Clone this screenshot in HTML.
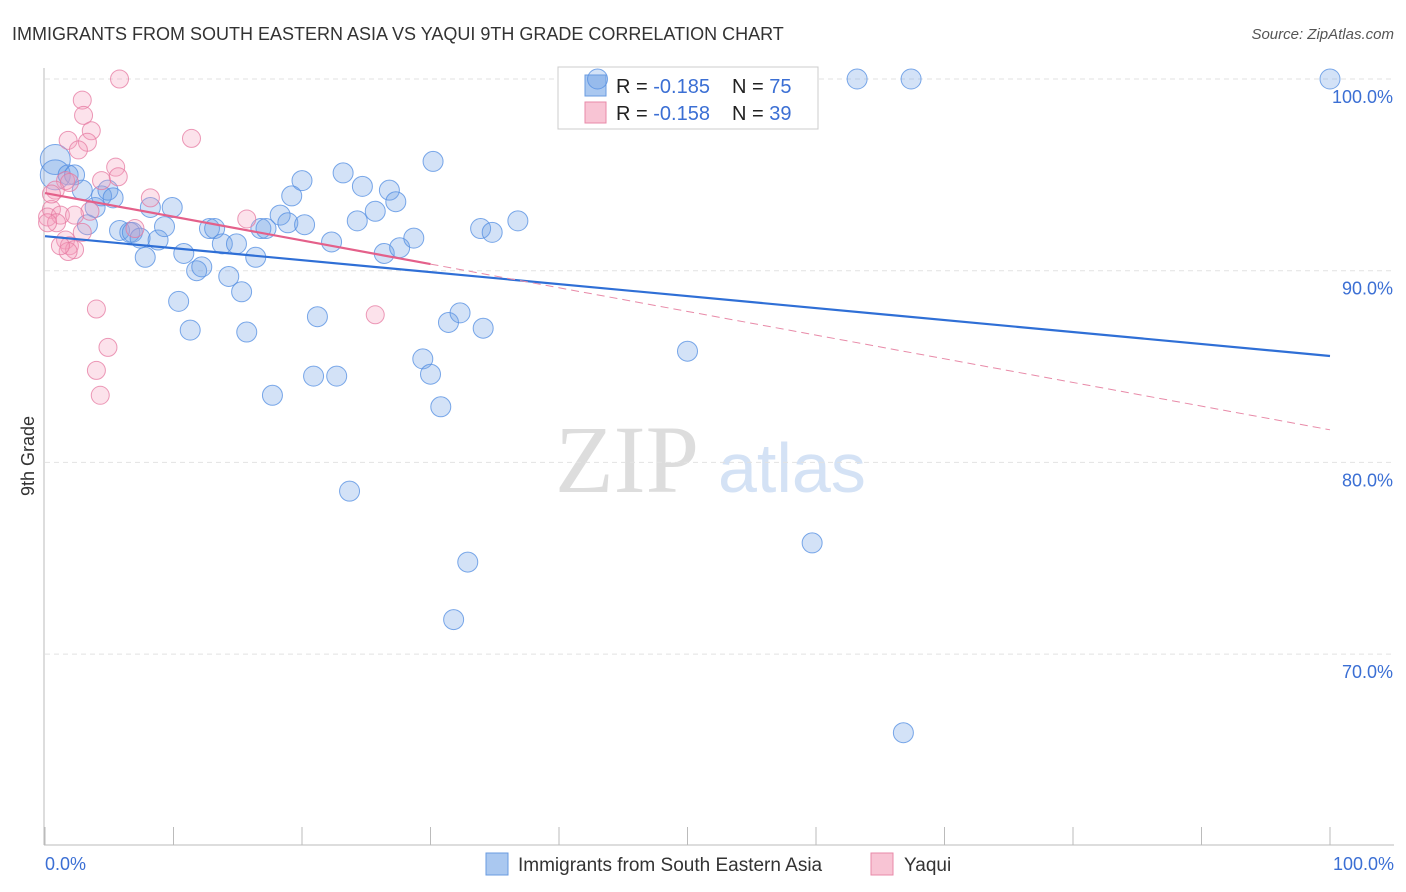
<!DOCTYPE html>
<html><head><meta charset="utf-8"><style>
body{margin:0;background:#fff;font-family:"Liberation Sans",sans-serif}
svg{display:block}
</style></head><body>
<svg id="c" width="1406" height="892" xmlns="http://www.w3.org/2000/svg">
<text x="12" y="40" font-size="18" fill="#333">IMMIGRANTS FROM SOUTH EASTERN ASIA VS YAQUI 9TH GRADE CORRELATION CHART</text>
<text x="1394" y="39" font-size="15" fill="#555" text-anchor="end" font-style="italic">Source: ZipAtlas.com</text>
<text x="555" y="492" font-size="96" fill="#ddd" font-family="Liberation Serif,serif">ZIP</text>
<text x="718" y="492" font-size="70" fill="#d4e2f5">atlas</text>
<text transform="translate(34,456) rotate(-90)" font-size="18" fill="#333" text-anchor="middle">9th Grade</text>
<g id="grid"></g>
<g>
<rect x="558" y="67" width="260" height="62" fill="#fff" stroke="#ccc"/>
<rect x="585" y="75" width="21" height="21" fill="#aac8f0" stroke="#6a9be0"/>
<rect x="585" y="102" width="21" height="21" fill="#f8c4d4" stroke="#e88aa8"/>
<text x="616" y="93" font-size="20" fill="#222">R = <tspan fill="#3b6fd4">-0.185</tspan></text>
<text x="732" y="93" font-size="20" fill="#222">N = <tspan fill="#3b6fd4">75</tspan></text>
<text x="616" y="120" font-size="20" fill="#222">R = <tspan fill="#3b6fd4">-0.158</tspan></text>
<text x="732" y="120" font-size="20" fill="#222">N = <tspan fill="#3b6fd4">39</tspan></text>
</g>
<g id="pts"></g><g id="trend"></g>
<g>
<rect x="486" y="853" width="22" height="22" fill="#aac8f0" stroke="#6a9be0"/>
<text x="518" y="871" font-size="19" fill="#333">Immigrants from South Eastern Asia</text>
<rect x="871" y="853" width="22" height="22" fill="#f8c4d4" stroke="#e88aa8"/>
<text x="904" y="871" font-size="19" fill="#333">Yaqui</text>
</g>
</svg>
<script>
const blueX=[0.8,0.8,1.8,2.3,2.9,3.3,3.9,4.4,4.9,5.3,5.8,6.6,6.8,7.4,7.8,8.2,8.8,9.3,9.9,10.4,10.8,11.3,11.8,12.2,12.8,13.2,13.8,14.3,14.9,15.3,15.7,16.4,16.8,17.2,17.7,18.3,18.9,19.2,20.0,20.2,20.9,21.2,22.3,22.7,23.2,23.7,24.3,24.7,25.7,26.4,26.8,27.3,27.6,28.7,29.4,30.0,30.2,30.8,31.4,31.8,32.3,32.9,33.9,34.1,34.8,36.8,43.0,50.0,59.7,63.2,66.8,67.4,100];
const blueY=[95.8,95.0,95.0,95.0,94.2,92.4,93.3,93.9,94.2,93.8,92.1,92.0,92.0,91.7,90.7,93.3,91.6,92.3,93.3,88.4,90.9,86.9,90.0,90.2,92.2,92.2,91.4,89.7,91.4,88.9,86.8,90.7,92.2,92.2,83.5,92.9,92.5,93.9,94.7,92.4,84.5,87.6,91.5,84.5,95.1,78.5,92.6,94.4,93.1,90.9,94.2,93.6,91.2,91.7,85.4,84.6,95.7,82.9,87.3,71.8,87.8,74.8,92.2,87.0,92.0,92.6,100,85.8,75.8,100,65.9,100,100];
const pinkX=[5.8,2.9,3.0,3.6,1.8,3.3,2.6,11.4,5.5,4.4,5.7,1.6,1.9,0.8,8.2,15.7,3.5,0.5,0.2,1.2,2.3,7.0,2.9,1.6,1.9,2.3,1.8,4.0,4.9,4.0,4.3,25.7,0.5,0.9,0.2,1.2];
const pinkY=[100,98.9,98.1,97.3,96.8,96.7,96.3,96.9,95.4,94.7,94.9,94.7,94.6,94.2,93.8,92.7,93.1,93.2,92.8,92.9,92.9,92.2,92.0,91.6,91.3,91.1,91.0,88.0,86.0,84.8,83.5,87.7,94.0,92.5,92.5,91.3];
const yTicks=[100,90,80,70];
const blueTrend=[91.8,85.55];
const pinkTrend=[94.05,81.7];
const NS="http://www.w3.org/2000/svg";
const X=v=>45+v*12.85, Y=v=>79+(100-v)*19.17;
function mk(p,t,a){const e=document.createElementNS(NS,t);for(const k in a)e.setAttribute(k,a[k]);p.appendChild(e);return e;}
const grid=document.getElementById('grid'),pts=document.getElementById('pts'),tr=document.getElementById('trend');
yTicks.forEach(v=>{
 const l=mk(grid,'line',{x1:45,x2:1394,y1:Y(v),y2:Y(v),stroke:'#e2e2e2','stroke-dasharray':'5,4'});
 
 
 const t=mk(grid,'text',{x:1393,y:Y(v)+24,'font-size':18,fill:'#3b6fd4','text-anchor':'end'});
 t.textContent=v.toFixed(1)+'%';
 
 
});
const ax=mk(grid,'line',{x1:44,x2:44,y1:68,y2:845,stroke:'#bbb'});


const bx=mk(grid,'line',{x1:44,x2:1394,y1:845,y2:845,stroke:'#bbb'});


for(let i=0;i<=10;i++){const t=mk(grid,'line',{x1:X(i*10),x2:X(i*10),y1:827,y2:845,stroke:'#bbb'});
 
 }
[[0,'0.0%','start',45],[100,'100.0%','end',1394]].forEach(a=>{const t=mk(grid,'text',{x:a[3],y:870,'font-size':18,fill:'#3b6fd4','text-anchor':a[2]});t.textContent=a[1];
 
 });
blueX.forEach((v,i)=>{const c=mk(pts,'circle',{cx:X(v),cy:Y(blueY[i]),r:i<2?15:10,fill:'rgba(110,160,230,0.3)',stroke:'rgba(80,140,225,0.75)','stroke-width':1});
 
 });
pinkX.forEach((v,i)=>{const c=mk(pts,'circle',{cx:X(v),cy:Y(pinkY[i]),r:9,fill:'rgba(245,160,190,0.3)',stroke:'rgba(230,120,160,0.75)','stroke-width':1});
 
 });
const bl=mk(tr,'line',{x1:X(0),y1:Y(blueTrend[0]),x2:X(100),y2:Y(blueTrend[1]),stroke:'#2f6fd6','stroke-width':2.2});


const pm=v=>pinkTrend[0]+(pinkTrend[1]-pinkTrend[0])*v/100;
const ps=mk(tr,'line',{x1:X(0),y1:Y(pm(0)),x2:X(30),y2:Y(pm(30)),stroke:'#e4608a','stroke-width':2.2});


const pd=mk(tr,'line',{x1:X(30),y1:Y(pm(30)),x2:X(100),y2:Y(pm(100)),stroke:'#e88aa8','stroke-width':1,'stroke-dasharray':'8,5'});


</script>
</body></html>
